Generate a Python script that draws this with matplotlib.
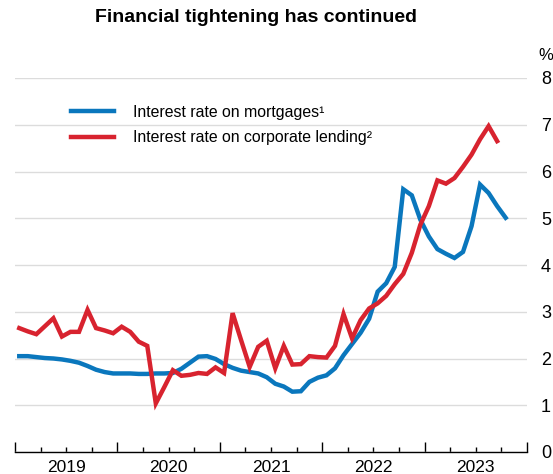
import numpy as np
import matplotlib
matplotlib.use("Agg")
from matplotlib import pyplot as plt
from matplotlib.ticker import FixedLocator, NullFormatter

plt.rcParams['font.family'] = ['Liberation Sans', 'DejaVu Sans']

# monthly data, starting January 2019
start_year = 2019
mortgages = [2.05, 2.05, 2.03, 2.01, 2.00, 1.98, 1.95, 1.91, 1.84, 1.76, 1.71, 1.68,
             1.68, 1.68, 1.67, 1.67, 1.68, 1.68, 1.69, 1.78, 1.91, 2.04, 2.05, 1.99,
             1.88, 1.80, 1.74, 1.71, 1.68, 1.60, 1.46, 1.40, 1.29, 1.30, 1.50, 1.59,
             1.64, 1.79, 2.07, 2.31, 2.55, 2.85, 3.43, 3.61, 3.96, 5.62, 5.49, 4.97,
             4.61, 4.34, 4.24, 4.15, 4.28, 4.83, 5.72, 5.54, 5.26, 5.01]
corporate = [2.65, 2.58, 2.52, 2.69, 2.86, 2.47, 2.57, 2.57, 3.04, 2.65, 2.60, 2.54,
             2.68, 2.57, 2.36, 2.27, 1.04, 1.39, 1.75, 1.63, 1.65, 1.69, 1.67, 1.81,
             1.69, 2.97, 2.39, 1.82, 2.25, 2.38, 1.79, 2.27, 1.87, 1.88, 2.05, 2.03,
             2.02, 2.27, 2.95, 2.43, 2.82, 3.07, 3.18, 3.34, 3.59, 3.81, 4.26, 4.86,
             5.26, 5.81, 5.74, 5.86, 6.10, 6.36, 6.69, 6.97, 6.65]
years = [2019, 2020, 2021, 2022, 2023]
labels = ["Interest rate on mortgages\u00b9", "Interest rate on corporate lending\u00b2"]

blue = '#0a77bd'
red = '#d8232f'

x_m = start_year + (np.arange(len(mortgages)) + 0.5) / 12
x_c = start_year + (np.arange(len(corporate)) + 0.5) / 12

fig = plt.figure(figsize=(5.53, 4.74), dpi=100)
ax = fig.add_axes([15 / 553, 1 - 452 / 474, 512 / 553, 374 / 474])

ax.plot(x_m, mortgages, color=blue, lw=3.2, label=labels[0], solid_joinstyle='miter')
ax.plot(x_c, corporate, color=red, lw=3.2, label=labels[1], solid_joinstyle='miter')

ax.set_xlim(years[0], years[-1] + 1)
ax.set_ylim(0, 8)

for s in ['left', 'right', 'top']:
    ax.spines[s].set_visible(False)
ax.spines['bottom'].set_color('black')
ax.spines['bottom'].set_linewidth(1)

ax.yaxis.tick_right()
ax.set_yticks(range(0, 9))
ax.tick_params(axis='y', length=0, pad=10, labelsize=13)
ax.grid(axis='y', color='#dcdcdc', lw=1)
ax.set_axisbelow(True)

year_edges = years + [years[-1] + 1]
ax.xaxis.set_major_locator(FixedLocator(year_edges))
ax.xaxis.set_major_formatter(NullFormatter())
quarters = [y + q / 4 for y in years for q in (1, 2, 3)]
ax.xaxis.set_minor_locator(FixedLocator(quarters))
ax.tick_params(axis='x', which='major', direction='in', length=7.5, width=1, color='black')
ax.tick_params(axis='x', which='minor', direction='in', length=3.8, width=1, color='black')
for y in years:
    ax.text(y + 0.5, -15 / 374, str(y), ha='center', va='center', fontsize=12.5,
            transform=ax.get_xaxis_transform())

leg = ax.legend(loc='upper left', bbox_to_anchor=(71 / 553, 1 - 105 / 474),
                bbox_transform=fig.transFigure, frameon=False, fontsize=11.4,
                handlelength=2.7, handletextpad=1.2, labelspacing=0.66,
                borderpad=0, borderaxespad=0)

fig.text(256 / 553, 1 - 18 / 474, "Financial tightening has continued",
         ha='center', va='center', fontsize=14, fontweight='bold')
fig.text(538 / 553, 1 - 55 / 474, "%", ha='left', va='center', fontsize=12)

plt.savefig('out.png', dpi=100)
